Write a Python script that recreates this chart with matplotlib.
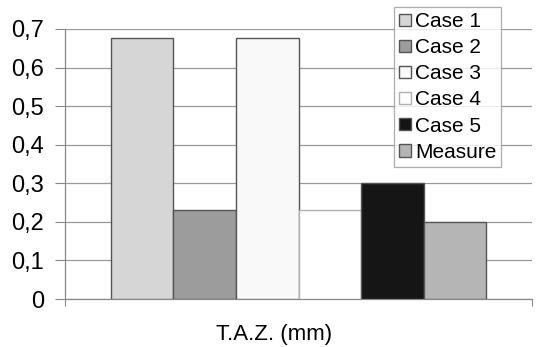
import matplotlib
matplotlib.use("Agg")
import matplotlib.pyplot as plt
from matplotlib.ticker import FuncFormatter

plt.rcParams['font.family'] = ['Liberation Sans', 'DejaVu Sans']

# data
cases = ['Case 1', 'Case 2', 'Case 3', 'Case 4', 'Case 5', 'Measure']
taz = [0.676, 0.231, 0.676, 0.231, 0.300, 0.200]
colors = ['#d6d6d6', '#9c9c9c', '#f9f9f9', '#ffffff', '#151515', '#b5b5b5']
yticks = [0, 0.1, 0.2, 0.3, 0.4, 0.5, 0.6, 0.7]

fig = plt.figure(figsize=(5.37, 3.47), dpi=100)
ax = fig.add_axes([65/537, 1-299/347, 467/537, 270/347])

w = 0.134
n = len(cases)
for i, (c, v, col) in enumerate(zip(cases, taz, colors)):
    x = (i - (n - 1) / 2) * w
    ec = '#b0b0b0' if c == 'Case 4' else '#555555'
    ax.bar(x, v, width=w, color=col, edgecolor=ec, linewidth=1.0,
           label=c, zorder=3)

ax.set_xlim(-0.5, 0.5)
ax.set_ylim(0, 0.7)
ax.set_yticks(yticks)
ax.yaxis.set_major_formatter(FuncFormatter(lambda v, p: ('%g' % round(v, 1)).replace('.', ',')))
ax.tick_params(axis='y', labelsize=17, length=7, color='#888888', pad=8)
ax.set_xticks([-0.5, 0.5])
ax.set_xticklabels(['', ''])
ax.tick_params(axis='x', length=5, color='#888888')
ax.grid(axis='y', color='#999999', linewidth=0.9, zorder=0)

for s in ['top', 'right']:
    ax.spines[s].set_visible(False)
for s in ['left', 'bottom']:
    ax.spines[s].set_color('#888888')
    ax.spines[s].set_linewidth(0.9)

fig.text(274/537, 1-340/347, 'T.A.Z. (mm)', ha='center', va='baseline', fontsize=16)

leg = ax.legend(loc='upper left', bbox_to_anchor=(394/537, 1-7/347),
                bbox_transform=fig.transFigure, fontsize=15, frameon=True,
                fancybox=False, borderaxespad=0, handlelength=0.55,
                handleheight=0.55, handletextpad=0.2, labelspacing=0.34,
                borderpad=0.25)
leg.get_frame().set_edgecolor('#999999')
leg.get_frame().set_linewidth(0.9)

fig.savefig('out.png', dpi=100)
